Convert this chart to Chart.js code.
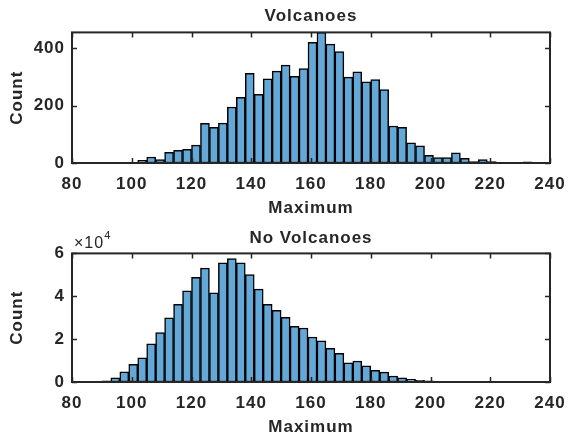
<!DOCTYPE html>
<html>
<head>
<meta charset="utf-8">
<script src="https://cdn.jsdelivr.net/npm/chart.js@4/dist/chart.umd.min.js"></script>
<style>
  html, body { margin: 0; padding: 0; background: #fff; }
  #wrap { position: relative; width: 568px; height: 439px; }
  canvas { position: absolute; left: 0; }
</style>
</head>
<body>
<div id="wrap">
  <canvas id="topChart" width="568" height="220" style="top:0"></canvas>
  <canvas id="bottomChart" width="568" height="219" style="top:220px"></canvas>
</div>
<script>
// histogram bins (left edge and width, same units as the x axis)
let volcBinStart = 102;
let volcBinWidth = 3;
let volcCounts = [9, 21, 12, 37, 44, 48, 62, 138, 124, 139, 195, 229, 312, 239, 293, 320, 341, 302, 329, 420,
    455, 414, 388, 299, 318, 283, 291, 256, 129, 124, 70, 60, 27, 19, 19, 35, 16, 5, 12, 5, 1, 0, 0, 4];

let noVolcBinStart = 90;
let noVolcBinWidth = 3;
let noVolcCounts = [600, 1900, 4700, 8200, 11300, 17800, 23100, 29900, 36200, 42500, 48800, 53100, 41600,
    55600, 57600, 55600, 50100, 43300, 36200, 33400, 30200, 26000, 25200, 21000, 19200, 15700, 13400,
    9000, 9800, 7600, 5500, 4600, 2800, 1900, 1300, 800, 500, 300, 100, 0, 0, 0, 0, 0, 0, 0, 0, 200];

let xTicks = [80, 100, 120, 140, 160, 180, 200, 220, 240];
let volcYTicks = [0, 200, 400];
let noVolcYTicks = [0, 20000, 40000, 60000];

const txtColor = '#262626';
const barColor = 'rgb(100,168,216)';
const fnt = 'Liberation Sans, Arial, sans-serif';

const boxPlugin = {
    id: 'box',
    beforeUpdate(chart) {
        chart.ctx.letterSpacing = '1px';
    },
    beforeDraw(chart) {
        chart.ctx.letterSpacing = '1px';
    },
    afterDraw(chart, args, opts) {
        let ctx = chart.ctx;
        let a = chart.chartArea;
        let x = chart.scales.x;
        let y = chart.scales.y;
        ctx.save();
        ctx.strokeStyle = txtColor;
        ctx.lineWidth = 1.5;
        ctx.beginPath();
        x.ticks.forEach(t => {
            let px = Math.round(x.getPixelForValue(t.value)) + 0.5;
            ctx.moveTo(px, a.bottom); ctx.lineTo(px, a.bottom - 5);
            ctx.moveTo(px, a.top); ctx.lineTo(px, a.top + 5);
        });
        y.ticks.forEach(t => {
            let py = Math.round(y.getPixelForValue(t.value)) + 0.5;
            ctx.moveTo(a.left, py); ctx.lineTo(a.left + 5, py);
            ctx.moveTo(a.right, py); ctx.lineTo(a.right - 5, py);
        });
        ctx.stroke();
        ctx.lineWidth = 2;
        ctx.strokeRect(a.left, a.top, a.right - a.left, a.bottom - a.top);
        if (opts.exponent) {
            ctx.fillStyle = txtColor;
            ctx.textBaseline = 'alphabetic';
            ctx.textAlign = 'left';
            ctx.font = '16px ' + fnt;
            ctx.fillText('\u00d710', a.left + 2, a.top - 5);
            let w = ctx.measureText('\u00d710').width;
            ctx.font = '11px ' + fnt;
            ctx.fillText(opts.exponent, a.left + 2 + w, a.top - 14);
        }
        ctx.restore();
    }
};

function makeHist(id, titulo, binStart, binWidth, counts, yMax, yTicks, yFmt, exponent, tPad) {
    let puntos = [];
    for (let i = 0; i < counts.length; i++) {
        puntos.push({ x: binStart + binWidth * (i + 0.5), y: counts[i] });
    }
    new Chart(document.getElementById(id), {
        type: 'bar',
        data: {
            datasets: [{
                data: puntos,
                backgroundColor: barColor,
                borderColor: '#000',
                borderWidth: 1.5,
                borderSkipped: false,
                barPercentage: 1,
                categoryPercentage: 1
            }]
        },
        plugins: [boxPlugin],
        options: {
            responsive: false,
            animation: false,
            layout: { padding: { left: 0, right: 18, top: 0, bottom: 0 } },
            plugins: {
                legend: { display: false },
                tooltip: { enabled: false },
                title: {
                    display: true,
                    fullSize: false,
                    text: titulo,
                    color: txtColor,
                    font: { family: fnt, size: 17, weight: 'bold', lineHeight: 1.2 },
                    padding: tPad
                },
                box: { exponent: exponent }
            },
            scales: {
                x: {
                    type: 'linear',
                    offset: false,
                    min: 80,
                    max: 240,
                    afterBuildTicks: s => { s.ticks = xTicks.map(v => ({ value: v })); },
                    afterFit: s => { s.height = 57; s.paddingLeft = 0; s.paddingRight = 0; },
                    grid: { display: false, drawTicks: false },
                    border: { display: false },
                    ticks: { color: txtColor, padding: 11, maxRotation: 0, font: { family: fnt, size: 17, weight: 'bold' } },
                    title: {
                        display: true, text: 'Maximum', color: txtColor,
                        font: { family: fnt, size: 17, weight: 'bold', lineHeight: 1.2 },
                        padding: { top: 0, bottom: 1 }
                    }
                },
                y: {
                    min: 0,
                    max: yMax,
                    afterBuildTicks: s => { s.ticks = yTicks.map(v => ({ value: v })); },
                    afterFit: s => { s.width = 72; s.paddingTop = 0; s.paddingBottom = 0; },
                    grid: { display: false, drawTicks: false },
                    border: { display: false },
                    ticks: { color: txtColor, padding: 7, font: { family: fnt, size: 17, weight: 'bold' }, callback: yFmt },
                    title: {
                        display: true, text: 'Count', color: txtColor,
                        font: { family: fnt, size: 17, weight: 'bold', lineHeight: 1.2 },
                        padding: { top: 7, bottom: 0 }
                    }
                }
            }
        }
    });
}

makeHist('topChart', 'Volcanoes', volcBinStart, volcBinWidth, volcCounts, 455, volcYTicks, v => v, null, { top: 6, bottom: 6 });
makeHist('bottomChart', 'No Volcanoes', noVolcBinStart, noVolcBinWidth, noVolcCounts, 60000, noVolcYTicks, v => v / 10000, '4', { top: 8, bottom: 5 });
</script>
</body>
</html>
